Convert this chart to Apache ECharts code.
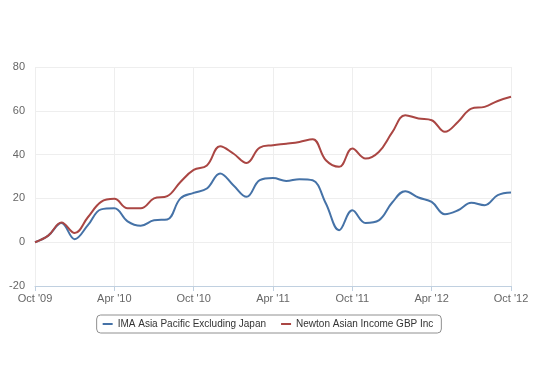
<!DOCTYPE html>
<html>
<head>
<meta charset="utf-8">
<script src="https://cdn.jsdelivr.net/npm/echarts@6/dist/echarts.min.js"></script>
<style>html,body{margin:0;padding:0;background:#fff}#c{width:536px;height:375px}</style>
</head>
<body>
<div id="c"></div>
<script>
const months = ["Oct '09","Nov '09","Dec '09","Jan '10","Feb '10","Mar '10","Apr '10","May '10","Jun '10","Jul '10","Aug '10","Sep '10",
"Oct '10","Nov '10","Dec '10","Jan '11","Feb '11","Mar '11","Apr '11","May '11","Jun '11","Jul '11","Aug '11","Sep '11",
"Oct '11","Nov '11","Dec '11","Jan '12","Feb '12","Mar '12","Apr '12","May '12","Jun '12","Jul '12","Aug '12","Sep '12","Oct '12"];
const imaValues = [0,3,8.8,1.4,7.8,15,15.5,9.5,7.5,10,10.4,20,22.5,24.5,31.4,26,20.7,28.3,29.3,28,28.8,28.3,17.7,5.5,14.6,8.8,10,18,23.3,20.4,18.4,12.8,14.6,18,16.9,21.5,22.7];
const newtonValues = [0,3,9,4.2,11.4,18.4,19.8,15.5,15.5,20,21,27.5,33,35,43.8,40.5,36.2,43.2,44.3,45,45.8,47,37.4,34.4,42.8,38.2,41.2,50,58,56.5,55.7,50.4,55,61,61.8,64.5,66.4];
const seriesNames = ["IMA Asia Pacific Excluding Japan","Newton Asian Income GBP Inc"];
const yTicks = {min:-20,max:80,interval:20};

const chart = echarts.init(document.getElementById('c'));
chart.setOption({
  animation:false,
  color:['#4572A7','#AA4643'],
  textStyle:{fontFamily:'"Liberation Sans", Arial, sans-serif'},
  grid:{left:35,right:25,top:67,bottom:89,containLabel:false},
  legend:{
    bottom:42,left:'center',
    data:seriesNames,
    icon:'rect',itemWidth:10,itemHeight:2,itemGap:15,
    borderColor:'#909090',borderWidth:1,borderRadius:4,
    padding:[4,8,4,6],
    textStyle:{color:'#333',fontSize:10}
  },
  xAxis:{
    type:'category',boundaryGap:false,data:months,
    axisLine:{onZero:false,lineStyle:{color:'#C0D0E0'}},
    axisTick:{interval:5,length:5,lineStyle:{color:'#C0D0E0'}},
    axisLabel:{interval:5,color:'#666',fontSize:11,margin:7},
    splitLine:{show:true,interval:5,lineStyle:{color:'#EEEEEE'}}
  },
  yAxis:{
    type:'value',min:yTicks.min,max:yTicks.max,interval:yTicks.interval,
    axisLine:{show:false},axisTick:{show:false},
    axisLabel:{color:'#666',fontSize:11,margin:10},
    splitLine:{lineStyle:{color:'#EEEEEE'}}
  },
  series:[
    {name:seriesNames[0],type:'line',data:imaValues,smooth:0.4,showSymbol:false,lineStyle:{width:2}},
    {name:seriesNames[1],type:'line',data:newtonValues,smooth:0.4,showSymbol:false,lineStyle:{width:2}}
  ]
});
</script>
</body>
</html>
